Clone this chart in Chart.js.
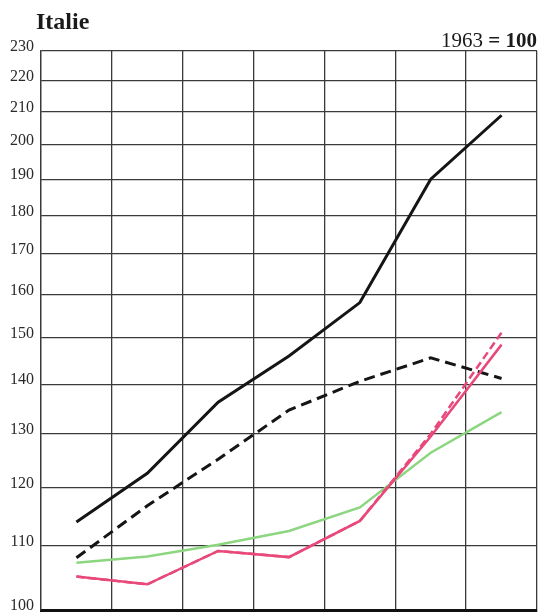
<!DOCTYPE html>
<html>
<head>
<meta charset="utf-8">
<script src="https://cdn.jsdelivr.net/npm/chart.js@4.4.1/dist/chart.umd.min.js"></script>
<style>
  html, body { margin: 0; padding: 0; background: #ffffff; }
  #wrap { position: relative; width: 541px; height: 613px; }
</style>
</head>
<body>
<div id="wrap"><canvas id="c" width="541" height="613"></canvas></div>
<script>
// Index, 1963 = 100
const years = ['1964', '1965', '1966', '1967', '1968', '1969', '1970'];
const yTicks = [100, 110, 120, 130, 140, 150, 160, 170, 180, 190, 200, 210, 220, 230];

const blackSolid  = [114.0, 122.6, 136.3, 146.0, 158.1, 190.0, 209.0];
const blackDashed = [108.1, 116.8, 125.2, 134.7, 140.6, 145.6, 141.2];
const greenLine   = [107.3, 108.3, 110.2, 112.5, 116.5, 126.4, 134.3];
const pinkSolid   = [105.1, 103.9, 109.2, 108.2, 114.2, 129.5, 148.5];
const pinkDashed  = [105.1, 103.9, 109.2, 108.2, 114.2, 130.0, 151.2];

const titleText = 'Italie';
const baseLeft = '1963 ';
const baseRight = '= 100';

const serif = '"Liberation Serif", "DejaVu Serif", serif';

const headerPlugin = {
  id: 'header',
  afterDraw(chart) {
    const ctx = chart.ctx;
    ctx.save();
    ctx.fillStyle = '#1a1a1a';
    ctx.textBaseline = 'alphabetic';
    ctx.textAlign = 'left';
    ctx.font = 'bold 24px ' + serif;
    ctx.fillText(titleText, 36, 29);

    // base-year note, right aligned to the plot edge
    ctx.font = 'bold 21px ' + serif;
    const wr = ctx.measureText(baseRight).width;
    ctx.font = '21px ' + serif;
    const wl = ctx.measureText(baseLeft).width;
    const right = chart.chartArea.right;
    ctx.fillText(baseLeft, right - wr - wl, 47);
    ctx.font = 'bold 21px ' + serif;
    ctx.fillText(baseRight, right - wr, 47);
    ctx.restore();
  }
};

function line(label, data, color, width, dash) {
  return {
    label, data,
    borderColor: color,
    borderWidth: width,
    borderDash: dash || [],
    pointRadius: 0,
    tension: 0,
    fill: false
  };
}

new Chart(document.getElementById('c'), {
  type: 'line',
  data: {
    labels: years,
    datasets: [
      line('rose pointillé', pinkDashed, 'rgb(232,72,122)', 2.5, [8, 4]),
      line('rose', pinkSolid, 'rgb(232,72,122)', 2.5),
      line('vert', greenLine, 'rgb(140,214,128)', 2.5),
      line('noir pointillé', blackDashed, '#151515', 3, [11, 6]),
      line('noir', blackSolid, '#151515', 3)
    ]
  },
  options: {
    responsive: false,
    animation: false,
    layout: { padding: { top: 51, right: 4, bottom: 3, left: 0 } },
    plugins: { legend: { display: false }, tooltip: { enabled: false } },
    scales: {
      x: {
        type: 'category',
        offset: true,
        grid: { offset: true, color: '#3a3a3a', lineWidth: 1.3, drawTicks: false },
        border: { display: true, color: '#111111', width: 3 },
        ticks: { display: false },
        afterFit(scale) { scale.height = 0; }
      },
      y: {
        type: 'logarithmic',
        min: 100,
        max: 230,
        afterBuildTicks(scale) { scale.ticks = yTicks.map(v => ({ value: v })); },
        afterFit(scale) {
          scale.width = 41;
          scale.paddingTop = 0;
          scale.paddingBottom = 0;
        },
        grid: { color: '#3a3a3a', lineWidth: 1.3, drawTicks: false },
        border: { display: true, color: '#3a3a3a', width: 1.3 },
        ticks: {
          padding: 7,
          labelOffset: -4,
          color: '#2a2a2a',
          font: { family: serif, size: 16 },
          callback: (v) => String(v)
        }
      }
    }
  },
  plugins: [headerPlugin]
});
</script>
</body>
</html>
